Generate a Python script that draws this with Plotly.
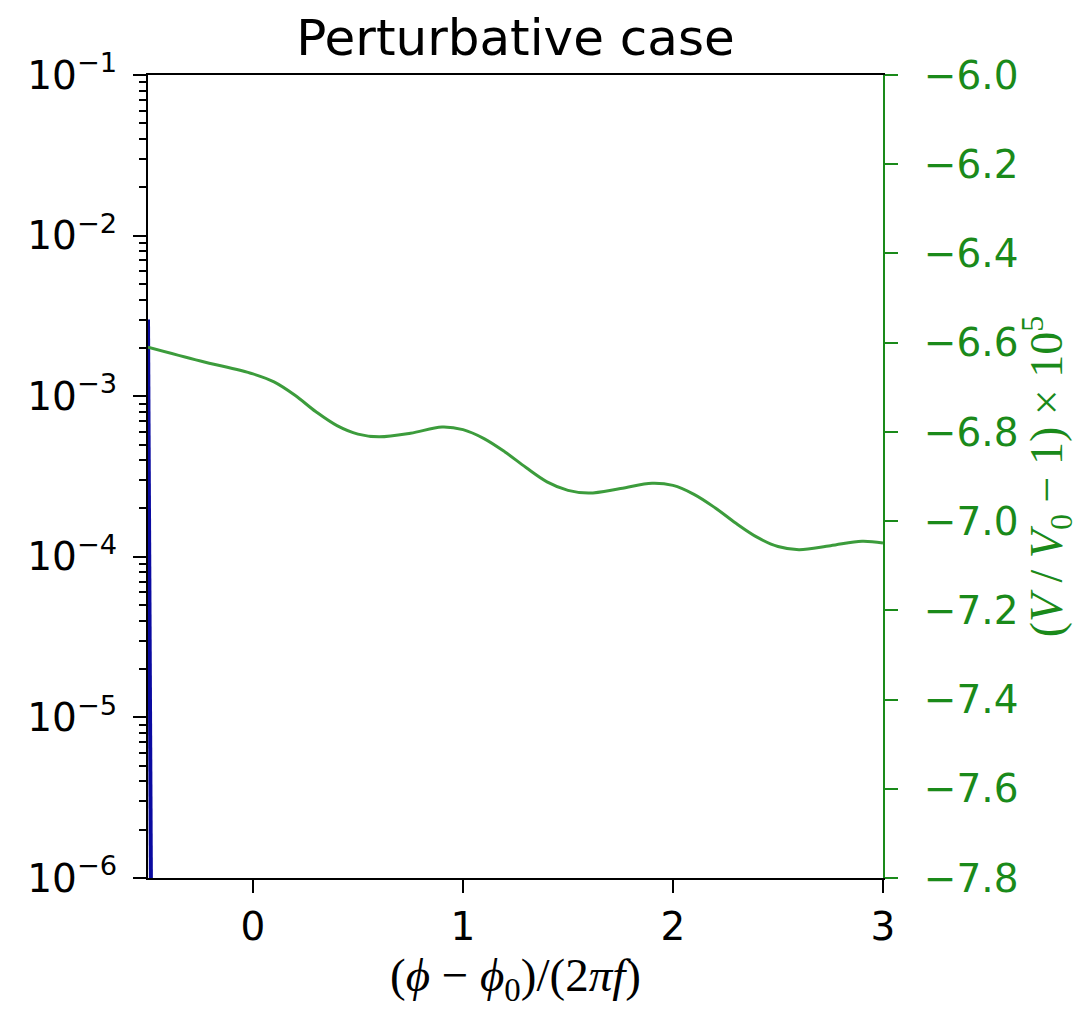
import plotly.graph_objects as go

# Green curve: (V/V0 - 1) x 1e5 vs (phi - phi0)/(2 pi f)
green_x = [-0.5, -0.25, 0.0, 0.1, 0.2, 0.3, 0.4, 0.5, 0.6, 0.75, 0.9, 1.0, 1.1, 1.2, 1.3,
           1.4, 1.5, 1.6, 1.75, 1.9, 2.0, 2.1, 2.2, 2.3, 2.4, 2.5, 2.6, 2.75, 2.9, 3.0]
green_y = [-6.610, -6.641, -6.670, -6.688, -6.718, -6.755, -6.786, -6.805, -6.811, -6.803,
           -6.789, -6.795, -6.815, -6.845, -6.880, -6.912, -6.931, -6.937, -6.927, -6.915,
           -6.920, -6.940, -6.970, -7.005, -7.036, -7.057, -7.064, -7.055, -7.045, -7.049]

# Blue curve: steep decay on the log axis
blue_x = [-0.5, -0.497, -0.494, -0.491, -0.488, -0.486, -0.485]
blue_y = [3e-3, 4e-4, 5e-5, 7e-6, 1.5e-6, 7e-7, 5e-7]

left_tickvals = [1e-6, 1e-5, 1e-4, 1e-3, 1e-2, 1e-1]
left_ticktext = ["10<sup>−6</sup>", "10<sup>−5</sup>", "10<sup>−4</sup>",
                 "10<sup>−3</sup>", "10<sup>−2</sup>", "10<sup>−1</sup>"]
x_tickvals = [0, 1, 2, 3]
right_tickvals = [-7.8, -7.6, -7.4, -7.2, -7.0, -6.8, -6.6, -6.4, -6.2, -6.0]

GREEN_AX = "#1a8a1a"
GREEN_LINE = "#3c9c3c"
BLUE = "#0a0aa0"
TICKFONT = dict(family="DejaVu Sans", size=39, color="black")

fig = go.Figure()
fig.add_trace(go.Scatter(x=green_x, y=green_y, mode="lines", yaxis="y2",
                         line=dict(color=GREEN_LINE, width=3, shape="spline", smoothing=1.0),
                         showlegend=False, hoverinfo="skip"))
fig.add_trace(go.Scatter(x=blue_x, y=blue_y, mode="lines", yaxis="y",
                         line=dict(color=BLUE, width=4),
                         showlegend=False, hoverinfo="skip", cliponaxis=True))

fig.update_layout(
    width=1079, height=1011,
    margin=dict(l=148, r=196, t=75, b=133),
    paper_bgcolor="white", plot_bgcolor="white",
    title=dict(text="Perturbative case", x=0.5, xanchor="center",
               xref="paper", y=0.963, yanchor="middle",
               font=dict(family="DejaVu Sans", size=50, color="black")),
    xaxis=dict(range=[-0.5, 3], tickvals=x_tickvals, ticktext=[str(v) for v in x_tickvals],
               ticks="outside", ticklen=13, tickwidth=2, tickcolor="black",
               showline=True, linecolor="black", linewidth=2, mirror=True,
               showgrid=False, zeroline=False, tickfont=TICKFONT,
               title=dict(text="(<i>ϕ</i> − <i>ϕ</i><sub>0</sub>)/(2<i>πf</i>)",
                          font=dict(family="Liberation Serif", size=47, color="black"),
                          standoff=8)),
    yaxis=dict(type="log", range=[-6, -1], tickvals=left_tickvals, ticktext=left_ticktext,
               ticks="outside", ticklen=13, tickwidth=2, tickcolor="black",
               showline=True, linecolor="black", linewidth=2, ticklabelstandoff=8,
               showgrid=False, zeroline=False, tickfont=TICKFONT,
               minor=dict(ticks="outside", ticklen=7, tickwidth=1.5, tickcolor="black",
                          dtick="D1", showgrid=False)),
    yaxis2=dict(range=[-7.8, -6.0], tickvals=right_tickvals, tickformat=".1f",
                overlaying="y", side="right", anchor="x",
                ticks="outside", ticklen=13, tickwidth=2, tickcolor=GREEN_AX,
                showline=True, linecolor=GREEN_AX, linewidth=2,
                showgrid=False, zeroline=False, ticklabelstandoff=18,
                tickfont=dict(family="DejaVu Sans", size=39, color=GREEN_AX),
                title=dict(text="(<i>V</i> / <i>V</i><sub>0</sub> − 1) × 10<sup>5</sup>",
                           font=dict(family="Liberation Serif", size=46, color=GREEN_AX),
                           standoff=10)),
)

fig.write_html("out.html")
